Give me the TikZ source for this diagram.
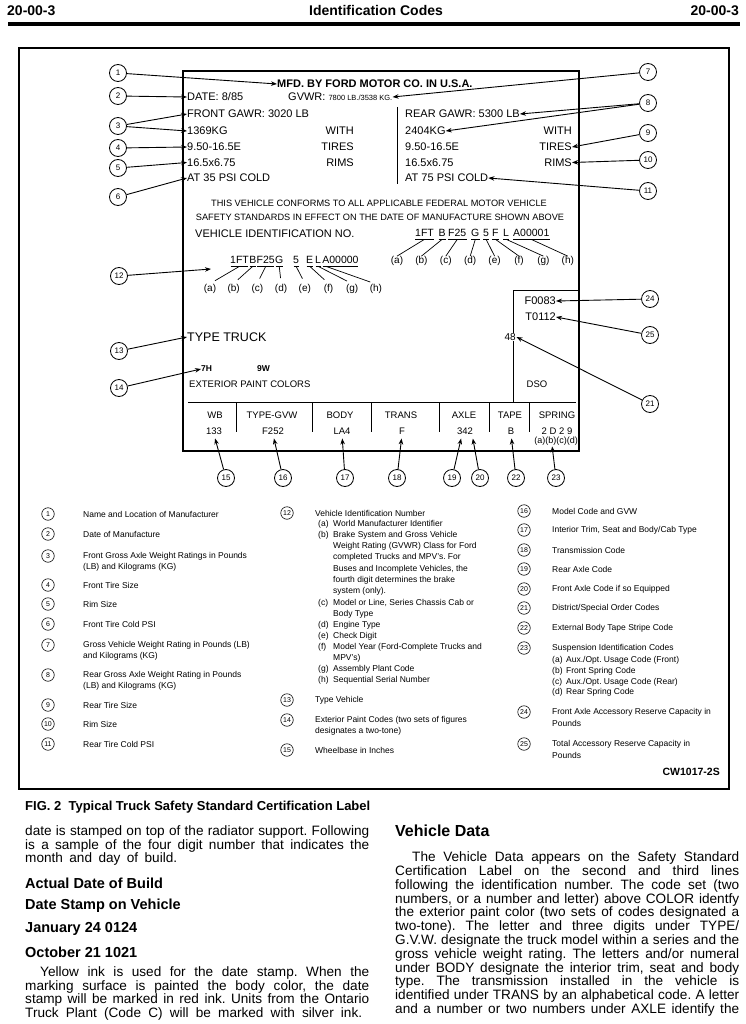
\documentclass[tikz,border=0pt]{standalone}
\usepackage{fontspec}
\setmainfont{Liberation Sans}
\usetikzlibrary{arrows.meta,positioning,calc}
\newcommand\jl[2][344pt]{\makebox[#1][s]{#2}}
\newcommand\sublbl[2][15pt]{\makebox[#1][l]{(#2)}}
\frenchspacing

\begin{document}
\begin{tikzpicture}[x=1pt,y=-1pt,
  num/.style={circle,draw,line width=.8pt,inner sep=0pt,minimum size=17pt,font=\fontsize{8}{8}\selectfont},
  key/.style={circle,draw,line width=.6pt,inner sep=0pt,minimum size=12.5pt,font=\fontsize{7}{7}\selectfont},
  lead/.style={line width=.9pt,-{Stealth[length=6pt,width=4.5pt]}},
  tick/.style={line width=.7pt},
  txt/.style={inner sep=0pt,anchor=west,font=\fontsize{11}{12}\selectfont},
  rtxt/.style={txt,anchor=east},
  vin/.style={inner sep=0pt,anchor=west,font=\fontsize{10.5}{11}\selectfont},
  sub/.style={inner sep=0pt,font=\fontsize{10}{11}\selectfont},
  cell/.style={inner sep=0pt,font=\fontsize{9.5}{10}\selectfont},
  leg/.style={inner sep=0pt,anchor=west,align=left,font=\fontsize{8.5}{11.3}\selectfont},
  body/.style={inner sep=0pt,anchor=west,align=left,font=\fontsize{13.6}{13.8}\selectfont},
  bhead/.style={inner sep=0pt,anchor=west,font=\bfseries\fontsize{14.5}{15}\selectfont},
  head/.style={inner sep=0pt,font=\bfseries\fontsize{14}{14}\selectfont}]

\fill[white] (0,0) rectangle (745,1024);
\useasboundingbox (0,0) rectangle (745,1024);

\node[head,anchor=west] (pgl) at (7,11) {20-00-3};
\node[head] (title) at (376,11) {Identification Codes};
\node[head,anchor=east] (pgr) at (739,11) {20-00-3};
\draw[line width=4.5pt] (8,24) -- (740,24);

\draw[line width=1.4pt] (19,48) rectangle (729,789);
\draw[line width=1.2pt] (183,71) rectangle (579,451);

\node[txt,font=\bfseries\fontsize{11}{12}\selectfont] (mfd) at (277,84) {MFD. BY FORD MOTOR CO. IN U.S.A.};
\node[txt] (date) at (187,97) {DATE: 8/85};
\node[txt] (gvwr) at (288,97) {GVWR: {\fontsize{7.5}{8}\selectfont 7800 LB./3538 KG.}};
\node[txt] (fgawr) at (187,114) {FRONT GAWR: 3020 LB};
\node[txt] (rgawr) at (405,114) {REAR GAWR: 5300 LB};
\node[txt] (fkg) at (187,131) {1369KG};
\node[rtxt] (fwith) at (354,131) {WITH};
\node[txt] (rkg) at (405,131) {2404KG};
\node[rtxt] (rwith) at (572,131) {WITH};
\node[txt] (ftire) at (187,147) {9.50-16.5E};
\node[rtxt] (ftires) at (354,147) {TIRES};
\node[txt] (rtire) at (405,147) {9.50-16.5E};
\node[rtxt] (rtires) at (572,147) {TIRES};
\node[txt] (frim) at (187,162.5) {16.5x6.75};
\node[rtxt] (frims) at (354,162.5) {RIMS};
\node[txt] (rrim) at (405,162.5) {16.5x6.75};
\node[rtxt] (rrims) at (572,162.5) {RIMS};
\node[txt] (fpsi) at (187,178) {AT 35 PSI COLD};
\node[txt] (rpsi) at (405,178) {AT 75 PSI COLD};
\draw[line width=.9pt] (397,107) -- (397,184);

\node[inner sep=0pt,font=\fontsize{9.2}{10}\selectfont] (conf1) at (379,203) {THIS VEHICLE CONFORMS TO ALL APPLICABLE FEDERAL MOTOR VEHICLE};
\node[inner sep=0pt,font=\fontsize{9.2}{10}\selectfont] (conf2) at (380,217) {SAFETY STANDARDS IN EFFECT ON THE DATE OF MANUFACTURE SHOWN ABOVE};
\node[txt] (vinlbl) at (195,234) {VEHICLE IDENTIFICATION NO.};

\node[vin] (r1) at (415,233) {1FT};
\node[vin] (r2) at (438.5,233) {B};
\node[vin] (r3) at (448,233) {F25};
\node[vin] (r4) at (471,233) {G};
\node[vin] (r5) at (483,233) {5};
\node[vin] (r6) at (492,233) {F};
\node[vin] (r7) at (503,233) {L};
\node[vin] (r8) at (513,233) {A00001};
\foreach \s in {r1,r2,r3,r4,r5,r6,r7,r8}
  \draw[tick] ([yshift=-2.5pt]\s.south west) -- ([yshift=-2.5pt]\s.south east);
\foreach \l [count=\i from 0] in {a,b,c,d,e,f,g,h}
  \node[sub] (r\l) at ({397+24.4*\i},261) {(\l)};
\foreach \l/\s in {a/1,b/2,c/3,d/4,e/5,f/6,g/7,h/8}
  \draw[tick] (r\l.north) -- ([yshift=-2.5pt]r\s.south);

\node[vin] (l1) at (230,260) {1FT};
\node[vin,right=0pt of l1] (l2) {B};
\node[vin,right=0pt of l2] (l3) {F25};
\node[vin,right=0pt of l3] (l4) {G};
\node[vin] (l5) at (293,260) {5};
\node[vin] (l6) at (306,260) {E};
\node[vin,right=1.5pt of l6] (l7) {L};
\node[vin,right=1pt of l7] (l8) {A00000};
\foreach \s in {l1,l2,l3,l4,l5,l6,l7,l8}
  \draw[tick] ([shift={(.6pt,-2.5pt)}]\s.south west) -- ([shift={(-.6pt,-2.5pt)}]\s.south east);
\foreach \l [count=\i from 0] in {a,b,c,d,e,f,g,h}
  \node[sub] (l\l) at ({210+23.7*\i},289) {(\l)};
\foreach \l/\s in {a/1,b/2,c/3,d/4,e/5,f/6,g/7}
  \draw[tick] ($(l\l.north)!6pt!(l\s.south)$) -- ([yshift=-2.5pt]l\s.south);
\draw[tick] ($(lh.north)!6pt!(l8.south west)$) -- ([shift={(4pt,-2.5pt)}]l8.south west);
\coordinate (vinhit) at (211,269);

\draw[line width=1pt] (513,402) -- (513,290) -- (579,290);
\node[rtxt] (fres) at (556,301) {F0083};
\node[rtxt] (tres) at (556,317) {T0112};
\node[inner sep=.5pt,anchor=east,fill=white,font=\fontsize{10}{11}\selectfont] (dist) at (516.5,337) {48};
\node[cell] (dso) at (537,384) {DSO};

\node[txt,font=\fontsize{12.5}{13}\selectfont] (type) at (187,337) {TYPE TRUCK};
\node[txt,font=\bfseries\fontsize{8.5}{9}\selectfont] (pnt1) at (201,369) {7H};
\node[txt,font=\bfseries\fontsize{8.5}{9}\selectfont] (pnt2) at (257,369) {9W};
\node[cell,anchor=west] (pntlbl) at (189,384) {EXTERIOR PAINT COLORS};

\draw[line width=1pt] (188,402) -- (576,402);
\foreach \x in {236,312,371,439,489,529}
  \draw[line width=1pt] (\x,402) -- (\x,432);
\foreach \x/\t [count=\i] in {215/WB,272/TYPE-GVW,340/BODY,401/TRANS,464/AXLE,510/TAPE,557/SPRING}
  \node[cell] (hd\i) at (\x,415) {\t};
\foreach \x/\t [count=\i] in {214/133,273/F252,342/LA4,402/F,465/342,511/B,557/2 D 2 9}
  \node[cell] (vl\i) at (\x,431) {\t};
\node[cell,font=\fontsize{9}{9}\selectfont] (sprl) at (556,441) {(a)(b)(c)(d)};

\foreach \n/\x/\y in {1/118/73,2/118/96,3/118/126,4/118/148,5/118/168,6/118/197,12/119/276,13/119/351,14/119/388,
  7/648/72,8/648/103,9/648/133,10/648/160,11/648/191,24/650/299,25/650/335,21/650/404,
  15/226/478,16/283/478,17/345/478,18/397/478,19/452/478,20/480/478,22/516/478,23/556/478}
  \node[num] (c\n) at (\x,\y) {\n};

\draw[lead] (c1) -- (mfd.west);
\draw[lead] (c2) -- (date.west);
\draw[lead] (c7) -- (gvwr.east);
\draw[lead] (c3) -- (fgawr.west);
\draw[lead] (c3) -- (fkg.west);
\draw[lead] (c8) -- (rgawr.east);
\draw[lead] (c8) -- (rkg.east);
\draw[lead] (c4) -- (ftire.west);
\draw[lead] (c9) -- (rtires.east);
\draw[lead] (c5) -- (frim.west);
\draw[lead] (c10) -- (rrims.east);
\draw[lead] (c6) -- (fpsi.west);
\draw[lead] (c11) -- (rpsi.east);
\draw[lead] (c12) -- (vinhit);
\draw[lead] (c13) -- (type.west);
\draw[lead] (c14) -- (pnt1.west);
\draw[lead] (c24) -- (fres.east);
\draw[lead] (c25) -- (tres.east);
\draw[lead] (c21) -- (dist.east);
\draw[lead,shorten >=4pt] (c15) -- (vl1.south);
\draw[lead,shorten >=4pt] (c16) -- (vl2.south);
\draw[lead,shorten >=4pt] (c17) -- (vl3.south);
\draw[lead,shorten >=4pt] (c18) -- (vl4.south);
\draw[lead,shorten >=4pt] (c19) -- ([xshift=-3pt]vl5.south);
\draw[lead,shorten >=4pt] (c20) -- ([xshift=-1pt]vl5.south east);
\draw[lead,shorten >=4pt] (c22) -- (vl6.south);
\draw[lead,shorten >=1pt] (c23) -- ([xshift=-4pt]sprl.south);

\foreach \n/\y in {1/514,2/534,3/556,4/585,5/604,6/624,7/645,8/675,9/705,10/724,11/744}
  \node[key] (k\n) at (48,\y) {\n};
\node[leg] (g1) at (83,514) {Name and Location of Manufacturer};
\node[leg] (g2) at (83,534) {Date of Manufacture};
\node[leg] (g3) at (83,561.6) {Front Gross Axle Weight Ratings in Pounds\\(LB) and Kilograms (KG)};
\node[leg] (g4) at (83,585) {Front Tire Size};
\node[leg] (g5) at (83,604) {Rim Size};
\node[leg] (g6) at (83,624) {Front Tire Cold PSI};
\node[leg] (g7) at (83,650.6) {Gross Vehicle Weight Rating in Pounds (LB)\\and Kilograms (KG)};
\node[leg] (g8) at (83,680.6) {Rear Gross Axle Weight Rating in Pounds\\(LB) and Kilograms (KG)};
\node[leg] (g9) at (83,705) {Rear Tire Size};
\node[leg] (g10) at (83,724) {Rim Size};
\node[leg] (g11) at (83,744) {Rear Tire Cold PSI};

\foreach \n/\y in {12/513,13/700,14/720,15/750}
  \node[key] (k\n) at (287,\y) {\n};
\node[leg] (g12) at (315,513) {Vehicle Identification Number};
\node[leg] (mta) at (318,524) {\sublbl{a}World Manufacturer Identifier};
\node[leg] (mtb) at (318,563.2) {\sublbl{b}Brake System and Gross Vehicle\\\hspace*{15pt}Weight Rating (GVWR) Class for Ford\\\hspace*{15pt}completed Trucks and MPV's. For\\\hspace*{15pt}Buses and Incomplete Vehicles, the\\\hspace*{15pt}fourth digit determines the brake\\\hspace*{15pt}system (only).};
\node[leg] (mtc) at (318,608.6) {\sublbl{c}Model or Line, Series Chassis Cab or\\\hspace*{15pt}Body Type};
\node[leg] (mtd) at (318,625) {\sublbl{d}Engine Type};
\node[leg] (mte) at (318,636) {\sublbl{e}Check Digit};
\node[leg] (mtf) at (318,652.6) {\sublbl{f}Model Year (Ford-Complete Trucks and\\\hspace*{15pt}MPV's)};
\node[leg] (mtg) at (318,669) {\sublbl{g}Assembly Plant Code};
\node[leg] (mth) at (318,680) {\sublbl{h}Sequential Serial Number};
\node[leg] (g13) at (315,700) {Type Vehicle};
\node[leg] (g14) at (315,725.6) {Exterior Paint Codes (two sets of figures\\designates a two-tone)};
\node[leg] (g15) at (315,750) {Wheelbase in Inches};

\foreach \n/\y in {16/511,17/530,18/550,19/569,20/589,21/608,22/628,23/648,24/712,25/744}
  \node[key] (k\n) at (524,\y) {\n};
\node[leg] (g16) at (552,511) {Model Code and GVW};
\node[leg] (g17) at (552,530) {Interior Trim, Seat and Body/Cab Type};
\node[leg] (g18) at (552,550) {Transmission Code};
\node[leg] (g19) at (552,569) {Rear Axle Code};
\node[leg] (g20) at (552,589) {Front Axle Code if so Equipped};
\node[leg] (g21) at (552,608) {District/Special Order Codes};
\node[leg] (g22) at (552,628) {External Body Tape Stripe Code};
\node[leg] (g23) at (552,648) {Suspension Identification Codes};
\node[leg] (qta) at (552,660) {\sublbl[14pt]{a}Aux./Opt. Usage Code (Front)};
\node[leg] (qtb) at (552,671) {\sublbl[14pt]{b}Front Spring Code};
\node[leg] (qtc) at (552,682) {\sublbl[14pt]{c}Aux./Opt. Usage Code (Rear)};
\node[leg] (qtd) at (552,692) {\sublbl[14pt]{d}Rear Spring Code};
\node[leg] (g24) at (552,717.6) {Front Axle Accessory Reserve Capacity in\\Pounds};
\node[leg] (g25) at (552,749.6) {Total Accessory Reserve Capacity in\\Pounds};
\node[inner sep=0pt,anchor=east,font=\bfseries\fontsize{10.5}{11}\selectfont] (cw) at (720,772) {CW1017-2S};

\node[inner sep=0pt,anchor=west,font=\bfseries\fontsize{13}{14}\selectfont] (fig) at (25,807) {FIG. 2\ \ Typical Truck Safety Standard Certification Label};
\node[body] (p1) at (25,845.5) {\jl{date is stamped on top of the radiator support. Following}\\\jl{is a sample of the four digit number that indicates the}\\\jl[152pt]{month and day of build.}};
\node[bhead] (adb) at (25,883) {Actual Date of Build};
\node[bhead] (dsv) at (25,906) {Date Stamp on Vehicle};
\node[bhead] (jan) at (25,929) {January 24 0124};
\node[bhead] (oct) at (25,952) {October 21 1021};
\node[body] (p2) at (25,993.5) {\jl{\hspace*{15pt}Yellow ink is used for the date stamp. When the}\\\jl{marking surface is painted the body color, the date}\\\jl{stamp will be marked in red ink. Units from the Ontario}\\\jl[337pt]{Truck Plant (Code C) will be marked with silver ink.}};

\node[inner sep=0pt,anchor=west,font=\bfseries\fontsize{16}{17}\selectfont] (vdh) at (395,831) {Vehicle Data};
\node[body] (vd) at (395,934) {\jl{\hspace*{17pt}The Vehicle Data appears on the Safety Standard}\\\jl{Certification Label on the second and third lines}\\\jl{following the identification number. The code set (two}\\\jl{numbers, or a number and letter) above COLOR identfy}\\\jl{the exterior paint color (two sets of codes designated a}\\\jl{two-tone). The letter and three digits under TYPE/}\\\jl{G.V.W. designate the truck model within a series and the}\\\jl{gross vehicle weight rating. The letters and/or numeral}\\\jl{under BODY designate the interior trim, seat and body}\\\jl{type. The transmission installed in the vehicle is}\\\jl{identified under TRANS by an alphabetical code. A letter}\\\jl{and a number or two numbers under AXLE identify the}};
\end{tikzpicture}
\end{document}
